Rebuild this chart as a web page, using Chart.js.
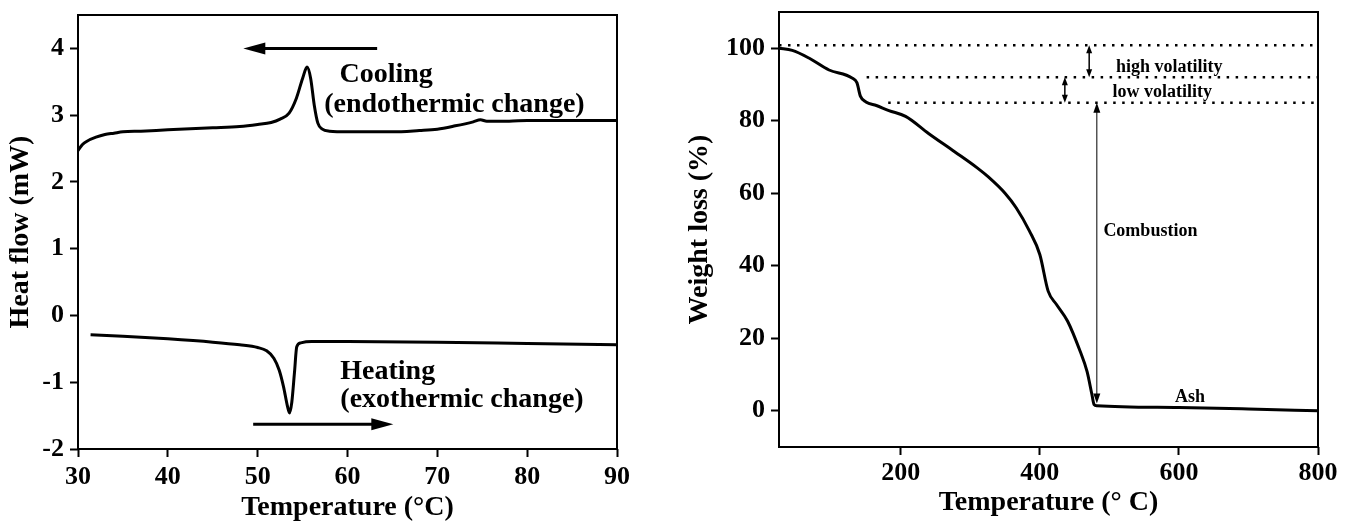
<!DOCTYPE html>
<html>
<head>
<meta charset="utf-8">
<script src="https://cdn.jsdelivr.net/npm/chart.js@4"></script>
<style>
  html, body { margin: 0; padding: 0; background: #fff; }
  #wrap { position: relative; width: 1355px; height: 523px; }
  #dsc { position: absolute; left: 0; top: 0; }
  #tga { position: absolute; left: 677px; top: 0; }
</style>
</head>
<body>
<div id="wrap">
  <canvas id="dsc" width="677" height="523"></canvas>
  <canvas id="tga" width="678" height="523"></canvas>
</div>
<script>
// DSC (left) - cooling curve
const coolT  = [30, 30.5, 31, 32, 33, 34, 35, 37, 40, 45, 48, 50, 51.5, 52.5, 53.5, 54.3, 55, 55.5, 55.9, 56.3, 56.7, 57.2, 58, 60, 65, 68, 70, 72, 74, 74.8, 75.5, 78, 80, 85, 90];
const coolHF = [2.47, 2.56, 2.61, 2.67, 2.71, 2.73, 2.75, 2.76, 2.78, 2.81, 2.83, 2.86, 2.89, 2.94, 3.03, 3.25, 3.55, 3.72, 3.55, 3.15, 2.88, 2.79, 2.76, 2.75, 2.75, 2.77, 2.79, 2.84, 2.9, 2.93, 2.91, 2.91, 2.92, 2.92, 2.92];
// DSC - heating curve
const heatT  = [31.4, 35, 40, 45, 48, 50, 51, 51.8, 52.4, 52.9, 53.3, 53.55, 53.8, 54.1, 54.35, 54.8, 56, 60, 70, 80, 90];
const heatHF = [-0.29, -0.31, -0.35, -0.40, -0.44, -0.48, -0.53, -0.64, -0.82, -1.08, -1.35, -1.46, -1.3, -0.85, -0.47, -0.41, -0.39, -0.39, -0.40, -0.42, -0.44];
const dscXTicks = [30, 40, 50, 60, 70, 80, 90];
const dscYTicks = [-2, -1, 0, 1, 2, 3, 4];

// TGA (right)
const tgaT = [25, 44, 68, 97, 130, 137, 142, 150, 165, 183, 207, 240, 278, 310, 326, 350, 366, 385, 400, 412, 424, 440, 458, 468, 475, 478, 482, 600, 700, 800];
const tgaW = [100, 99.4, 97.3, 94, 91.8, 90.5, 86.8, 85.2, 84.2, 82.8, 81.2, 76.5, 71.4, 67, 64.5, 60, 56, 49.6, 43.1, 33, 29.3, 24.7, 16.4, 10.8, 4.4, 1.7, 1.4, 0.9, 0.5, 0];
const tgaXTicks = [200, 400, 600, 800];
const tgaYTicks = [0, 20, 40, 60, 80, 100];
const levelY     = [100.8, 92.0, 85.0];
const levelStart = [25, 151, 182];

const serif = '"Liberation Serif", "Times New Roman", serif';
const tickFont = { family: serif, size: 26, weight: 'bold' };
const titleFont = { family: serif, size: 28, weight: 'bold' };

function toXY(xs, ys) {
    return xs.map((x, i) => ({ x: x, y: ys[i] }));
}

const frameAndNotes = {
    id: 'frameAndNotes',
    afterDatasetsDraw(chart, args, opts) {
        const ctx = chart.ctx;
        const a = chart.chartArea;
        const xs = chart.scales.x, ys = chart.scales.y;
        ctx.save();
        ctx.strokeStyle = '#000';
        ctx.fillStyle = '#000';
        ctx.lineWidth = 2;
        ctx.strokeRect(a.left, a.top, a.right - a.left, a.bottom - a.top);

        (opts.arrows || []).forEach(ar => {
            const x0 = xs.getPixelForValue(ar.from[0]), y0 = ys.getPixelForValue(ar.from[1]);
            const x1 = xs.getPixelForValue(ar.to[0]), y1 = ys.getPixelForValue(ar.to[1]);
            const ang = Math.atan2(y1 - y0, x1 - x0);
            const ux = Math.cos(ang), uy = Math.sin(ang);
            const both = ar.both;
            ctx.lineWidth = ar.width;
            ctx.beginPath();
            ctx.moveTo(x0 + (both ? ux * ar.len * 0.8 : 0), y0 + (both ? uy * ar.len * 0.8 : 0));
            ctx.lineTo(x1 - ux * ar.len * 0.8, y1 - uy * ar.len * 0.8);
            ctx.stroke();
            const head = (tx, ty, dx, dy) => {
                ctx.beginPath();
                ctx.moveTo(tx, ty);
                ctx.lineTo(tx - dx * ar.len - dy * ar.half, ty - dy * ar.len + dx * ar.half);
                ctx.lineTo(tx - dx * ar.len + dy * ar.half, ty - dy * ar.len - dx * ar.half);
                ctx.closePath();
                ctx.fill();
            };
            head(x1, y1, ux, uy);
            if (both) head(x0, y0, -ux, -uy);
        });

        (opts.notes || []).forEach(n => {
            ctx.font = 'bold ' + n.size + 'px ' + serif;
            ctx.textAlign = n.align || 'center';
            ctx.textBaseline = 'middle';
            ctx.fillText(n.text, xs.getPixelForValue(n.x), ys.getPixelForValue(n.y));
        });
        ctx.restore();
    }
};

function axis(min, max, ticks, title, fitSize, isX, titlePad, tickPad) {
    return {
        type: 'linear',
        position: isX ? 'bottom' : 'left',
        min: min,
        max: max,
        afterBuildTicks: s => { s.ticks = ticks.map(v => ({ value: v })); },
        afterFit: s => {
            // fixed box sizes so the plot area lands where the reference has it
            if (isX) { s.height = fitSize; s.paddingLeft = 0; s.paddingRight = 0; }
            else { s.width = fitSize; s.paddingTop = 0; s.paddingBottom = 0; }
        },
        border: { display: false },
        grid: {
            drawOnChartArea: false,
            drawTicks: true,
            tickLength: 8,
            tickWidth: 2,
            color: '#000'
        },
        ticks: { color: '#000', font: tickFont, padding: tickPad },
        title: { display: true, text: title, color: '#000', font: titleFont, padding: titlePad }
    };
}

const lineStyle = {
    borderColor: '#000',
    borderWidth: 3,
    pointRadius: 0,
    fill: false,
    cubicInterpolationMode: 'monotone'
};

new Chart(document.getElementById('dsc'), {
    type: 'line',
    data: {
        datasets: [
            Object.assign({ data: toXY(coolT, coolHF) }, lineStyle),
            Object.assign({ data: toXY(heatT, heatHF) }, lineStyle)
        ]
    },
    options: {
        responsive: false,
        animation: false,
        devicePixelRatio: 1,
        layout: { padding: { top: 15, right: 60, left: 0, bottom: 0 } },
        scales: {
            x: axis(30, 90, dscXTicks, 'Temperature (°C)', 74, true, { top: 0, bottom: -2 }, 5),
            y: axis(-2, 4.5, dscYTicks, 'Heat flow (mW)', 78, false, { top: 4, bottom: 0 }, 6)
        },
        plugins: {
            legend: { display: false },
            tooltip: { enabled: false },
            frameAndNotes: {
                arrows: [
                    { from: [63.3, 4.0], to: [48.4, 4.0], width: 3, len: 22, half: 6 },
                    { from: [49.5, -1.63], to: [65.1, -1.63], width: 3, len: 22, half: 6 }
                ],
                notes: [
                    { text: 'Cooling', x: 59.1, y: 3.6, size: 28, align: 'left' },
                    { text: '(endothermic change)', x: 57.4, y: 3.15, size: 28, align: 'left' },
                    { text: 'Heating', x: 59.2, y: -0.85, size: 28, align: 'left' },
                    { text: '(exothermic change)', x: 59.2, y: -1.27, size: 28, align: 'left' }
                ]
            }
        }
    },
    plugins: [frameAndNotes]
});

const dotted = levelY.map((lv, i) => ({
    data: toXY([levelStart[i], 800], [lv, lv]),
    borderColor: '#000',
    borderWidth: 2.5,
    borderDash: [2.5, 6.5],
    pointRadius: 0,
    fill: false
}));

new Chart(document.getElementById('tga'), {
    type: 'line',
    data: {
        datasets: [Object.assign({ data: toXY(tgaT, tgaW) }, lineStyle)].concat(dotted)
    },
    options: {
        responsive: false,
        animation: false,
        devicePixelRatio: 1,
        layout: { padding: { top: 12, right: 37, left: 0, bottom: 0 } },
        scales: {
            x: axis(25, 800, tgaXTicks, 'Temperature (° C)', 76, true, { top: 0, bottom: 3 }, 3),
            y: axis(-10, 110, tgaYTicks, 'Weight loss (%)', 102, false, { top: 6, bottom: 0 }, 6)
        },
        plugins: {
            legend: { display: false },
            tooltip: { enabled: false },
            frameAndNotes: {
                arrows: [
                    { from: [471, 100.8], to: [471, 92.0], width: 1.5, len: 8, half: 3, both: true },
                    { from: [436, 92.0], to: [436, 85.0], width: 1.5, len: 8, half: 3, both: true },
                    { from: [482, 2.0], to: [482, 85.0], width: 1, len: 10, half: 3.5, both: true }
                ],
                notes: [
                    { text: 'high volatility', x: 586, y: 94.7, size: 18 },
                    { text: 'low volatility', x: 576, y: 87.8, size: 18 },
                    { text: 'Combustion', x: 559, y: 49.6, size: 18 },
                    { text: 'Ash', x: 616, y: 3.6, size: 18 }
                ]
            }
        }
    },
    plugins: [frameAndNotes]
});
</script>
</body>
</html>
